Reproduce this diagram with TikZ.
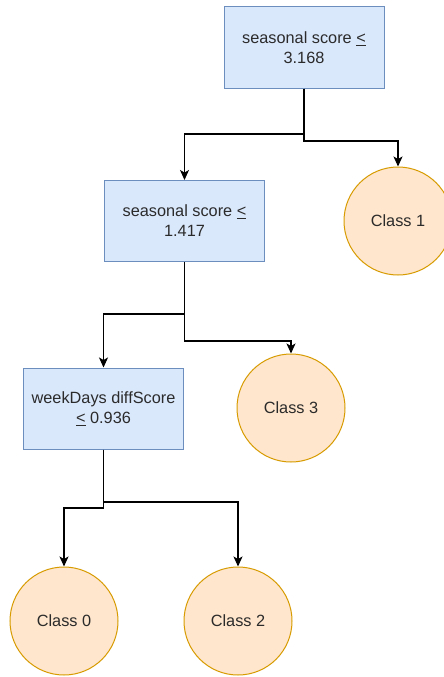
\documentclass[tikz,border=0pt]{standalone}
\usepackage{fontspec}
\setmainfont{Liberation Sans}
\usetikzlibrary{arrows.meta}
\definecolor{boxfill}{HTML}{DAE8FC}
\definecolor{boxline}{HTML}{6C8EBF}
\definecolor{leaffill}{HTML}{FFE6CC}
\definecolor{leafline}{HTML}{D79B00}
\definecolor{ink}{HTML}{2B2B2B}
\tikzset{
  split/.style={rectangle, draw=boxline, fill=boxfill, line width=1pt,
    minimum width=160pt, minimum height=81pt, align=center,
    text=ink, font=\fontsize{16.3}{20}\selectfont, inner sep=0pt},
  leaf/.style={circle, draw=leafline, fill=leaffill, line width=1pt,
    minimum size=108pt, text=ink, font=\fontsize{16.3}{20}\selectfont, inner sep=0pt},
  link/.style={draw=black, line width=1.1pt,
    -{Stealth[length=10pt,width=9pt,inset=2.5pt]}},
}
\begin{document}
\begin{tikzpicture}[x=1pt,y=-1pt]
  \useasboundingbox (0,0) rectangle (444,677);
  \begin{scope}
    \clip (0,0) rectangle (444,677);
    % decision nodes
    \node[split] (b1) at (304,47.5) {seasonal score \underline{<}\\3.168};
    \node[split] (b2) at (184.5,221) {seasonal score \underline{<}\\1.417};
    \node[split] (b3) at (103.5,408.5) {weekDays diffScore\\\underline{<} 0.936};
    % leaves
    \node[leaf] (c1) at (398,221) {Class 1};
    \node[leaf] (c3) at (291,408) {Class 3};
    \node[leaf] (c0) at (64,621) {Class 0};
    \node[leaf] (c2) at (238,621) {Class 2};
    % connectors
    \draw[link] (b1.south) -- (b1.south |- 0,134) -| (b2.north);
    \draw[link] (b1.south) -- (b1.south |- 0,141) -| (c1.north);
    \draw[link] (b2.south) -- (b2.south |- 0,314) -| (b3.north);
    \draw[link] (b2.south) -- (b2.south |- 0,341) -| (c3.north);
    \draw[link] (b3.south) -- (b3.south |- 0,508) -| (c0.north);
    \draw[link] (b3.south) -- (b3.south |- 0,502) -| (c2.north);
  \end{scope}
\end{tikzpicture}
\end{document}
